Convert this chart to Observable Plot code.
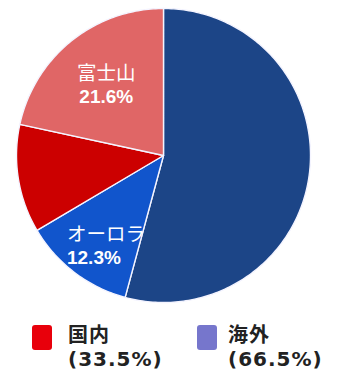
<!DOCTYPE html>
<html>
<head>
<meta charset="utf-8">
<script src="https://cdn.jsdelivr.net/npm/d3@7"></script>
<script src="https://cdn.jsdelivr.net/npm/@observablehq/plot@0.6"></script>
<style>
  html, body { margin: 0; padding: 0; background: #fff; }
  #wrap { position: relative; width: 337px; height: 379px; overflow: hidden; }
  #chart svg { display: block; }
  .lg-box { position: absolute; width: 20px; height: 25px; border-radius: 3px; }
  .lg-text { position: absolute; font-family: "DejaVu Sans", "Noto Sans CJK JP", sans-serif; font-weight: bold; font-size: 20px; color: #222; letter-spacing: 1px; }
  .lg-text div { height: 24px; line-height: 24px; white-space: nowrap; }
</style>
</head>
<body>
<div id="wrap">
  <div id="chart"></div>
  <div id="legend"></div>
</div>
<script>
// ---- data (clockwise from 12 o'clock) ----
const categories = ["海外その他", "オーロラ", "国内その他", "富士山"];
const values = [54.2, 12.3, 11.9, 21.6];
const sliceLabels = ["", "オーロラ", "", "富士山"];
const sliceColors = ["#1c4587", "#1155cc", "#cc0000", "#e06666"];

const legendNames = ["国内", "海外"];
const legendValues = [33.5, 66.5];
const legendColors = ["#e8000b", "#7676cc"];

// ---- build slice polygons ----
const total = d3.sum(values);
let acc = 0;
const slices = categories.map((name, i) => {
  const a0 = acc / total * 2 * Math.PI;
  acc += values[i];
  const a1 = acc / total * 2 * Math.PI;
  return {name, value: values[i], label: sliceLabels[i], a0, a1, mid: (a0 + a1) / 2};
});
const points = [];
for (const s of slices) {
  points.push({name: s.name, x: 0, y: 0});
  const n = Math.max(2, Math.ceil((s.a1 - s.a0) / (Math.PI / 180)));
  for (let k = 0; k <= n; k++) {
    const a = s.a0 + (s.a1 - s.a0) * k / n;
    points.push({name: s.name, x: Math.sin(a), y: Math.cos(a)});
  }
}

// label placement (style decision per slice)
const labelStyle = {
  "富士山": {r: 0.62, anchor: "middle", dx: 0},
  "オーロラ": {r: 0.77, anchor: "start", dx: -28}
};
const labels = slices.filter(s => s.label).map(s => {
  const st = labelStyle[s.label];
  return {
    name: s.label,
    pct: d3.format(".1f")(s.value) + "%",
    x: Math.sin(s.mid) * st.r,
    y: Math.cos(s.mid) * st.r,
    anchor: st.anchor, dx: st.dx
  };
});

const textMarks = [];
for (const anchor of ["middle", "start"]) {
  const subset = labels.filter(d => d.anchor === anchor);
  if (!subset.length) continue;
  const dx = subset[0].dx;
  textMarks.push(Plot.text(subset, {
    x: "x", y: "y", text: "name", fill: "white", fontSize: 19.5,
    textAnchor: anchor, dx, dy: -11,
    fontFamily: "'Liberation Sans', 'Noto Sans CJK JP', sans-serif"
  }));
  textMarks.push(Plot.text(subset, {
    x: "x", y: "y", text: "pct", fill: "white", fontSize: 19, fontWeight: "bold",
    textAnchor: anchor, dx, dy: 12,
    fontFamily: "'Liberation Sans', Arial, sans-serif"
  }));
}

const chart = Plot.plot({
  width: 337,
  height: 310,
  marginLeft: 16,
  marginRight: 27,
  marginTop: 8,
  marginBottom: 8,
  x: {domain: [-1, 1], axis: null},
  y: {domain: [-1, 1], axis: null},
  color: {domain: categories, range: sliceColors},
  marks: [
    Plot.line(points, {
      x: "x", y: "y", z: "name", fill: "name",
      stroke: "#f4f4ff", strokeWidth: 1.4, strokeLinejoin: "round",
      curve: "linear-closed"
    }),
    ...textMarks
  ]
});
document.getElementById("chart").appendChild(chart);

// ---- legend ----
const legendPos = [{box: 32, text: 68}, {box: 197, text: 228}];
const lg = document.getElementById("legend");
legendNames.forEach((name, i) => {
  const b = document.createElement("div");
  b.className = "lg-box";
  b.style.left = legendPos[i].box + "px";
  b.style.top = "325px";
  b.style.background = legendColors[i];
  lg.appendChild(b);
  const t = document.createElement("div");
  t.className = "lg-text";
  t.style.left = legendPos[i].text + "px";
  t.style.top = "323px";
  const l1 = document.createElement("div");
  l1.textContent = name;
  const l2 = document.createElement("div");
  l2.textContent = "(" + d3.format(".1f")(legendValues[i]) + "%)";
  t.appendChild(l1);
  t.appendChild(l2);
  lg.appendChild(t);
});
</script>
</body>
</html>
